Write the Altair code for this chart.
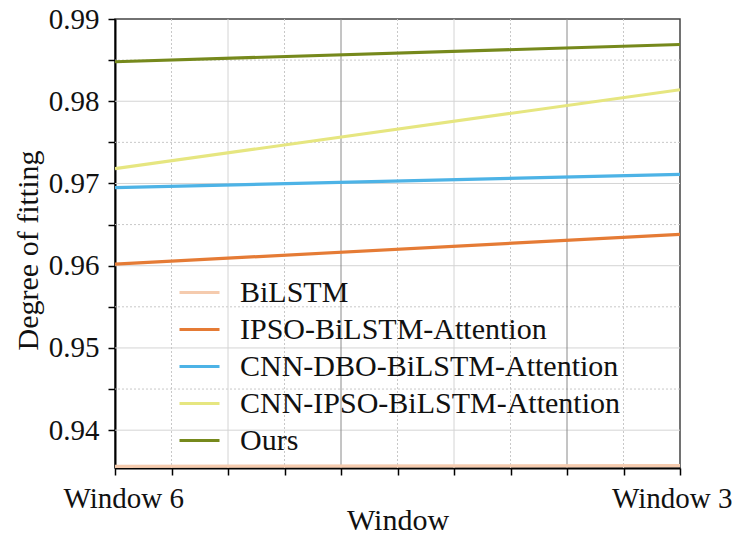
import altair as alt
import pandas as pd

windows = ["Window 6", "Window 3"]
models = ["BiLSTM", "IPSO-BiLSTM-Attention", "CNN-DBO-BiLSTM-Attention",
          "CNN-IPSO-BiLSTM-Attention", "Ours"]
bilstm = [0.9356, 0.9357]
ipso = [0.9602, 0.9638]
cnn_dbo = [0.9695, 0.9711]
cnn_ipso = [0.9718, 0.9814]
ours = [0.9848, 0.9869]
colors = ["#F5CBAE", "#E57B35", "#4DB3E6", "#E6E680", "#76891C"]

y_major = [0.94, 0.95, 0.96, 0.97, 0.98, 0.99]
y_minor = [0.945, 0.955, 0.965, 0.975, 0.985]
x_ticks = [0.0, 0.1, 0.2, 0.3, 0.4, 0.5, 0.6, 0.7, 0.8, 0.9, 1.0]
x_grid_solid = [0.2, 0.6]
x_grid_dark = [0.4, 0.8]
x_grid_dotted = [0.1, 0.3, 0.5, 0.7, 0.9]

rows = []
for m, vals in zip(models, [bilstm, ipso, cnn_dbo, cnn_ipso, ours]):
    for i, (w, v) in enumerate(zip(windows, vals)):
        rows.append({"model": m, "pos": float(i), "window": w, "value": v})
df = pd.DataFrame(rows)

FONT = "Liberation Serif"
ydom = [0.9354, 0.99]
xdom = [0.0, 1.0]

label_expr_x = " : ".join(
    [f"datum.value == {i} ? '{w}'" for i, w in enumerate(windows)]) + " : ''"

xs = alt.Scale(domain=xdom, nice=False, zero=False)
ys = alt.Scale(domain=ydom, nice=False, zero=False)

x_axis = alt.Axis(values=x_ticks, labelExpr=label_expr_x, title="Window",
                  grid=False, tickSize=7, labelPadding=9,
                  titleY=61, titleBaseline="alphabetic",
                  labelFlush=True, labelFlushOffset=52, labelOverlap=False)
y_axis = alt.Axis(values=y_major + y_minor, grid=False, tickSize=7,
                  labelExpr="abs(datum.value*100 - round(datum.value*100)) < 0.01 ? format(datum.value, '.2f') : ''",
                  title="Degree of fitting", labelPadding=9, titlePadding=5,
                  titleY=231,
                  labelFlush=False, labelOverlap=False)

grid_y_major = alt.Chart(pd.DataFrame({"v": y_major[:-1]})).mark_rule(
    color="#d4d4d4", strokeWidth=1).encode(y=alt.Y("v:Q", scale=ys, axis=y_axis))
grid_y_minor = alt.Chart(pd.DataFrame({"v": y_minor})).mark_rule(
    color="#c8c8c8", strokeWidth=1, strokeDash=[2, 2]).encode(y=alt.Y("v:Q", scale=ys, axis=y_axis))
grid_x_solid = alt.Chart(pd.DataFrame({"v": x_grid_solid})).mark_rule(
    color="#d4d4d4", strokeWidth=1).encode(x=alt.X("v:Q", scale=xs, axis=x_axis))
grid_x_dark = alt.Chart(pd.DataFrame({"v": x_grid_dark})).mark_rule(
    color="#8a8a8a", strokeWidth=1).encode(x=alt.X("v:Q", scale=xs, axis=x_axis))
grid_x_dotted = alt.Chart(pd.DataFrame({"v": x_grid_dotted})).mark_rule(
    color="#c8c8c8", strokeWidth=1, strokeDash=[2, 2]).encode(x=alt.X("v:Q", scale=xs, axis=x_axis))

lines = alt.Chart(df).mark_line(strokeWidth=3.2, clip=True).encode(
    x=alt.X("pos:Q", scale=xs, axis=x_axis),
    y=alt.Y("value:Q", scale=ys, axis=y_axis),
    color=alt.Color("model:N", scale=alt.Scale(domain=models, range=colors),
                    legend=alt.Legend(orient="none", legendX=63, legendY=252, title=None,
                                      symbolType="stroke", symbolSize=1600,
                                      symbolStrokeWidth=3, labelFont=FONT,
                                      labelFontSize=30, labelColor="#111",
                                      labelOffset=19, rowPadding=0, labelLimit=600)),
    detail="model:N",
)

chart = alt.layer(grid_y_major, grid_y_minor, grid_x_solid, grid_x_dark, grid_x_dotted, lines).properties(
    width=565, height=449,
    autosize=alt.AutoSizeParams(type="none"),
    padding={"left": 107, "top": 11, "right": 53, "bottom": 69},
).configure_view(
    stroke="#444", strokeWidth=1.5
).configure_axis(
    labelFont=FONT, titleFont=FONT, labelFontSize=29, titleFontSize=30,
    titleFontWeight="normal", labelColor="#111", titleColor="#111",
    domainColor="#000", domainWidth=2, tickColor="#000", tickWidth=1.5,
)

chart.save("out.html", embed_options={"renderer": "svg", "actions": False})
